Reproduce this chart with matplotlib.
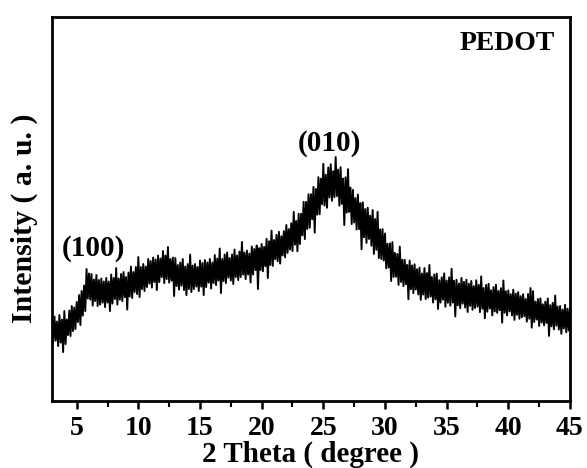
import numpy as np
import matplotlib
matplotlib.use("Agg")
import matplotlib.pyplot as plt
from matplotlib.ticker import MultipleLocator

# Noisy XRD trace, as the local maxima (at 3.0, 3.2, ... 45.0 deg)
# and local minima (at 3.1, 3.3, ... 44.9 deg) of the scan, in arbitrary units.
theta_hi = np.round(np.arange(3.0, 45.0001, 0.2), 2)
theta_lo = np.round(np.arange(3.1, 44.9001, 0.2), 2)

counts_hi = [
    820, 845, 795, 860, 815,       # 3
    900, 815, 905, 950, 935,       # 4
    990, 1060, 1100, 1155, 1320,   # 5
    1275, 1270, 1215, 1260, 1210,  # 6
    1225, 1195, 1230, 1195, 1265,  # 7
    1230, 1330, 1225, 1270, 1290,  # 8
    1240, 1285, 1345, 1290, 1340,  # 9
    1440, 1340, 1370, 1345, 1420,  # 10
    1400, 1435, 1415, 1455, 1425,  # 11
    1500, 1455, 1540, 1420, 1435,  # 12
    1430, 1360, 1385, 1420, 1345,  # 13
    1370, 1465, 1355, 1370, 1340,  # 14
    1405, 1380, 1410, 1385, 1420,  # 15
    1385, 1460, 1425, 1525, 1420,  # 16
    1465, 1485, 1430, 1465, 1515,  # 17
    1455, 1495, 1590, 1485, 1505,  # 18
    1475, 1545, 1520, 1555, 1530,  # 19
    1570, 1541, 1622, 1598, 1704,  # 20
    1610, 1661, 1692, 1648, 1699,  # 21
    1760, 1719, 1778, 1892, 1801,  # 22
    1872, 1873, 1992, 1992, 2067,  # 23
    2068, 2141, 2121, 2238, 2224,  # 24
    2372, 2263, 2335, 2368, 2298,  # 25
    2440, 2314, 2338, 2225, 2237,  # 26
    2318, 2134, 2112, 2029, 2064,  # 27
    1980, 1987, 1920, 1933, 1853,  # 28
    1910, 1820, 1892, 1715, 1719,  # 29
    1675, 1573, 1576, 1589, 1482,  # 30
    1470, 1544, 1413, 1412, 1361,  # 31
    1405, 1356, 1367, 1318, 1334,  # 32
    1275, 1330, 1280, 1360, 1240,  # 33
    1265, 1274, 1208, 1237, 1276,  # 34
    1205, 1236, 1322, 1203, 1214,  # 35
    1175, 1231, 1192, 1213, 1174,  # 36
    1200, 1149, 1208, 1162, 1246,  # 37
    1130, 1161, 1172, 1108, 1139,  # 38
    1163, 1101, 1128, 1205, 1098,  # 39
    1107, 1068, 1114, 1074, 1089,  # 40
    1049, 1068, 1020, 1070, 1130,  # 41
    1099, 994, 1020, 1027, 967,    # 42
    993, 1025, 959, 982, 1055,     # 43
    944, 951, 914, 962, 924,       # 44
    930,                           # 45
]

counts_lo = [
    590, 605, 550, 585, 490,       # 3
    570, 660, 650, 700, 720,       # 4
    790, 760, 855, 900, 1025,      # 5
    1015, 955, 1000, 950, 965,     # 6
    985, 940, 985, 900, 975,       # 7
    1020, 965, 1015, 1000, 1040,   # 8
    915, 1045, 1030, 1090, 1070,   # 9
    1040, 1120, 1100, 1140, 1175,  # 10
    1135, 1190, 1110, 1190, 1240,  # 11
    1180, 1220, 1185, 1205, 1050,  # 12
    1150, 1115, 1155, 1110, 1060,  # 13
    1120, 1090, 1120, 1145, 1100,  # 14
    1145, 1060, 1140, 1185, 1125,  # 15
    1180, 1160, 1205, 1080, 1200,  # 16
    1180, 1235, 1205, 1170, 1240,  # 17
    1210, 1240, 1265, 1220, 1265,  # 18
    1185, 1265, 1310, 1120, 1310,  # 19
    1298, 1349, 1230, 1361, 1352,  # 20
    1418, 1399, 1375, 1456, 1437,  # 21
    1482, 1516, 1500, 1564, 1498,  # 22
    1570, 1657, 1620, 1720, 1733,  # 23
    1817, 1684, 1864, 1868, 1967,  # 24
    1955, 1933, 2036, 2003, 2038,  # 25
    2049, 1954, 1972, 1760, 1884,  # 26
    1891, 1770, 1786, 1715, 1719,  # 27
    1518, 1638, 1582, 1621, 1553,  # 28
    1471, 1512, 1429, 1420, 1405,  # 29
    1327, 1335, 1200, 1241, 1243,  # 30
    1162, 1191, 1150, 1169, 1018,  # 31
    1118, 1079, 1115, 1066, 1012,  # 32
    1065, 1020, 1035, 1045, 985,   # 33
    1017, 921, 985, 1014, 943,     # 34
    983, 954, 985, 846, 957,       # 35
    928, 974, 935, 891, 952,       # 36
    912, 931, 945, 889, 923,       # 37
    828, 894, 925, 856, 897,       # 38
    882, 909, 784, 883, 857,       # 39
    896, 856, 812, 863, 823,       # 40
    838, 848, 795, 823, 734,       # 41
    790, 815, 751, 785, 757,       # 42
    781, 652, 747, 717, 754,       # 43
    715, 673, 726, 688, 705,       # 44
]

xticks = [5, 10, 15, 20, 25, 30, 35, 40, 45]
peak_labels = ["(100)", "(010)"]
peak_pos = [(6.37, 1530), (25.46, 2580)]
sample_name = "PEDOT"

# merge the two readings into one scan ordered by angle
theta = np.concatenate([theta_hi, theta_lo])
counts = np.concatenate([counts_hi, counts_lo])
order = np.argsort(theta)
theta, counts = theta[order], counts[order]

plt.rcParams['font.family'] = ['Liberation Serif', 'DejaVu Serif']
plt.rcParams['font.weight'] = 'bold'

fig = plt.figure(figsize=(5.87, 4.68), dpi=100)
ax = fig.add_axes([0.0886, 0.143, 0.8824, 0.8207])

ax.plot(theta, counts, color='black', lw=1.4)

ax.set_xlim(3.0, 45.0)
ax.set_ylim(0, 3840)
ax.set_xticks(xticks)
ax.xaxis.set_minor_locator(MultipleLocator(2.5))
ax.set_yticks([])
ax.tick_params(axis='x', which='major', direction='out', length=6, width=1.8,
               labelsize=20, pad=4.5)
ax.tick_params(axis='x', which='minor', direction='out', length=4.5, width=1.5)
for lab in ax.get_xticklabels():
    lab.set_fontweight('bold')
for sp in ax.spines.values():
    sp.set_linewidth(2.0)

ax.set_xlabel("2 Theta ( degree )", fontsize=21, fontweight='bold', labelpad=0)
ax.set_ylabel("Intensity ( a. u. )", fontsize=21.5, fontweight='bold')
ax.yaxis.set_label_coords(-0.028, 0.477)

for lbl, (px, py) in zip(peak_labels, peak_pos):
    ax.text(px, py, lbl, ha='center', va='center', fontsize=21, fontweight='bold')

ax.text(0.971, 0.932, sample_name, transform=ax.transAxes, ha='right', va='center',
        fontsize=20, fontweight='bold')

fig.savefig("out.png", dpi=100)
